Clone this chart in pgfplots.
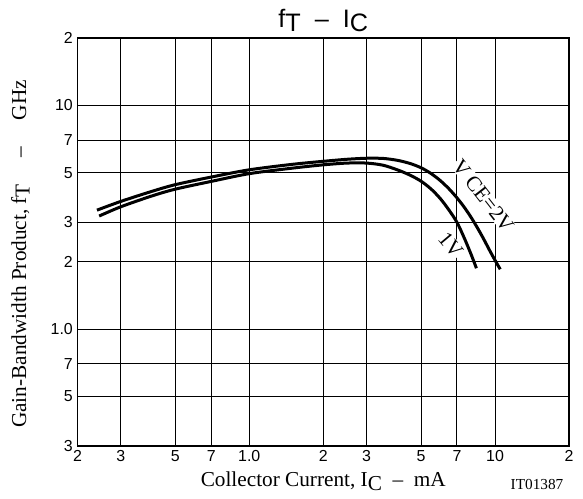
\documentclass[border=0pt]{standalone}
\usepackage{fontspec}
\setmainfont{Liberation Serif}
\setsansfont{Liberation Sans}
\usepackage{pgfplots}
\pgfplotsset{compat=1.18}
\newlength\px
\setlength\px{0.75bp}

\begin{document}
\begin{tikzpicture}
  \begin{axis}[
      xmode=log, ymode=log,
      scale only axis,
      width=491.5\px, height=408\px,
      xmin=0.2, xmax=20, ymin=0.3, ymax=20,
      xtick={0.2,0.3,0.5,0.7,1,2,3,5,7,10,20},
      xticklabels={2,3,5,7,\raisebox{-5\px}{1.0},2,3,5,7,\raisebox{-5\px}{10},2},
      ytick={0.3,0.5,0.7,1,2,3,5,7,10,20},
      yticklabels={3,5,7,1.0,2,3,5,7,10,2},
      minor xtick={}, minor ytick={},
      major tick length=0pt,
      grid=major,
      grid style={black, line width=0.7pt},
      axis line style={black, line width=1.4pt},
      /pgf/number format/assume math mode=true,
      tick label style={font=\sffamily\fontsize{12}{14}\selectfont},
      xlabel={Collector Current, I\raisebox{-0.35ex}{C} \ -- \ mA},
      ylabel={Gain-Bandwidth Product, f\raisebox{-0.35ex}{T} \quad -- \quad GHz},
      label style={font=\fontsize{16}{18}\selectfont},
      xlabel style={yshift=-1\px},
      ylabel style={yshift=12\px, xshift=-12\px},
      title={f\raisebox{-0.3ex}{T} \ -- \ I\raisebox{-0.3ex}{C}},
      title style={font=\sffamily\fontsize{19}{21}\selectfont, yshift=-6\px},
      clip=false,
    ]
    \node[rotate=-52, fill=white, inner sep=0.5pt, font=\fontsize{16}{18}\selectfont]
      at (axis cs:8.95,3.95) {V CE=2V};
    \node[rotate=-50, fill=white, inner sep=0.5pt, font=\fontsize{16}{18}\selectfont]
      at (axis cs:6.6,2.38) {1V};
    % VCE = 2 V
    \addplot[black, line width=3\px, smooth] coordinates {
      (0.24,3.40) (0.3,3.72) (0.4,4.12) (0.5,4.42) (0.7,4.78) (1.0,5.15)
      (1.5,5.45) (2.0,5.62) (2.5,5.74) (3.0,5.80) (3.5,5.79) (4.0,5.68)
      (4.5,5.50) (5.0,5.26) (5.5,4.95) (6.0,4.60) (6.5,4.23) (7.0,3.86)
      (7.5,3.50) (8.0,3.15) (8.5,2.82) (9.0,2.52) (9.5,2.25) (10.0,2.03)
      (10.5,1.85)
    };
    % VCE = 1 V
    \addplot[black, line width=3\px, smooth] coordinates {
      (0.245,3.20) (0.3,3.52) (0.4,3.93) (0.5,4.22) (0.7,4.57) (1.0,4.95)
      (1.5,5.24) (2.0,5.42) (2.5,5.52) (3.0,5.52) (3.5,5.40) (4.0,5.15)
      (4.5,4.88) (5.0,4.58) (5.5,4.22) (6.0,3.82) (6.5,3.40) (7.0,3.00)
      (7.5,2.55) (8.0,2.15) (8.4,1.87)
    };
  \end{axis}
  \node[font=\fontsize{11.5}{13}\selectfont] at ([xshift=-32\px,yshift=-38\px]current axis.south east) {IT01387};
  \pgfresetboundingbox
  \path[use as bounding box] ([xshift=-77.5\px,yshift=-52\px]current axis.south west)
    rectangle ([xshift=14\px,yshift=38\px]current axis.north east);
\end{tikzpicture}
\end{document}
